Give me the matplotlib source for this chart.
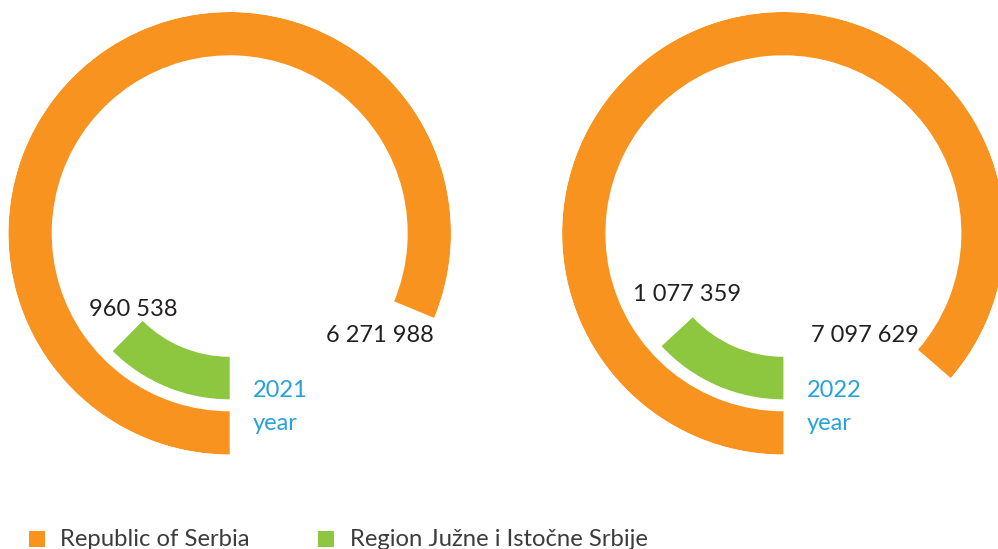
import numpy as np
import matplotlib
matplotlib.use("Agg")
import matplotlib.pyplot as plt
from matplotlib.patches import Rectangle

# values per year
years = ["2021", "2022"]
serbia = [6271988, 7097629]
region = [960538, 1077359]
# value that corresponds to one full turn in each ring chart
full_turn = [7.72e6, 8.22e6]

series_names = ["Republic of Serbia", "Region Južne i Istočne Srbije"]

ORANGE = "#F7931E"
GREEN = "#8DC63F"
BLUE = "#27A1DB"
DARK = "#231F20"
FONT = ["Lato", "DejaVu Sans"]

W, H = 998, 549
fig = plt.figure(figsize=(W / 100, H / 100), dpi=100)


def fx(px):
    return px / W


def fy(py):
    return 1 - py / H


def fmt(v):
    return f"{v:,}".replace(",", " ")


R_OUT = 221.3
centers = [(229.7, 233.3), (783.4, 233.3)]
# (inner radius, thickness) for outer and inner ring
rings = [(178.0, 43.3), (123.5, 42.5)]

# label anchors: (serbia label centre, region label centre, year text left x)
label_pos = [
    ((379.5, 336), (133, 310), 252.7),
    ((865.3, 336), (686.7, 294.7), 806.7),
]

for i, (cx, cy) in enumerate(centers):
    ax = fig.add_axes([fx(cx - R_OUT), fy(cy + R_OUT),
                       2 * R_OUT / W, 2 * R_OUT / H], projection="polar")
    ax.set_theta_zero_location("S")
    ax.set_theta_direction(-1)
    ax.set_ylim(0, R_OUT)
    for val, (r0, dr), col in zip([serbia[i], region[i]], rings, [ORANGE, GREEN]):
        ang = val / full_turn[i] * 2 * np.pi
        ax.bar(0, dr, width=ang, bottom=r0, align="edge", color=col,
               edgecolor="none", linewidth=0)
    ax.set_axis_off()

    (sx, sy), (gx, gy), yx = label_pos[i]
    fig.text(fx(sx), fy(sy), fmt(serbia[i]), ha="center", va="center",
             fontsize=17, color=DARK, family=FONT)
    fig.text(fx(gx), fy(gy), fmt(region[i]), ha="center", va="center",
             fontsize=17, color=DARK, family=FONT)
    fig.text(fx(yx), fy(390.7), years[i], ha="left", va="center",
             fontsize=17, color=BLUE, family=FONT)
    fig.text(fx(yx), fy(424), "year", ha="left", va="center",
             fontsize=17, color=BLUE, family=FONT)

# legend along the bottom
for (sq_x, tx), name, col in zip([(29.3, 60), (318.3, 350)], series_names,
                                 [ORANGE, GREEN]):
    fig.patches.append(Rectangle((fx(sq_x), fy(546.7)), 15.5 / W, 15.7 / H,
                                 transform=fig.transFigure, color=col,
                                 linewidth=0))
    fig.text(fx(tx), fy(546), name, ha="left", va="baseline",
             fontsize=17.2, color="#3C3C3C", family=FONT)

fig.savefig("out.png", dpi=100, facecolor="white")
